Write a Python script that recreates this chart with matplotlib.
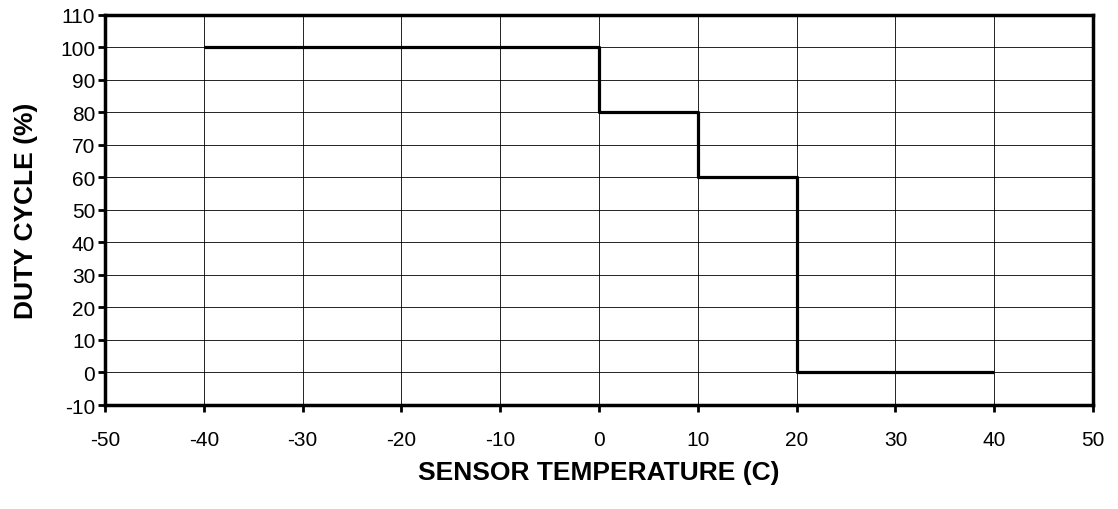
import matplotlib
matplotlib.use("Agg")
import matplotlib.pyplot as plt

temps = [-40, 0, 0, 10, 10, 20, 20, 40]
duty = [100, 100, 80, 80, 60, 60, 0, 0]
xticks = list(range(-50, 51, 10))
yticks = list(range(-10, 111, 10))

plt.rcParams['font.family'] = ['Liberation Sans', 'DejaVu Sans']
plt.rcParams['axes.unicode_minus'] = False
fig = plt.figure(figsize=(11.18, 5.10), dpi=100)
ax = fig.add_axes([0.0939, 0.2039, 0.9777 - 0.0939, 0.9696 - 0.2039])
ax.plot(temps, duty, color='black', linewidth=2.3, solid_capstyle='butt', zorder=3)
ax.set_xlim(-50, 50)
ax.set_ylim(-10, 110)
ax.set_xticks(xticks)
ax.set_yticks(yticks)
ax.grid(True, color='black', linewidth=0.6)
for s in ax.spines.values():
    s.set_linewidth(2.5)
ax.tick_params(direction='out', length=5, width=2, labelsize=15)
ax.tick_params(axis='y', pad=2)
ax.tick_params(axis='x', pad=13)
ax.set_xlabel('SENSOR TEMPERATURE (C)', fontsize=19, fontweight='bold', labelpad=8)
ax.set_ylabel('DUTY CYCLE (%)', fontsize=19, fontweight='bold', labelpad=16)
fig.savefig('out.png', dpi=100)
